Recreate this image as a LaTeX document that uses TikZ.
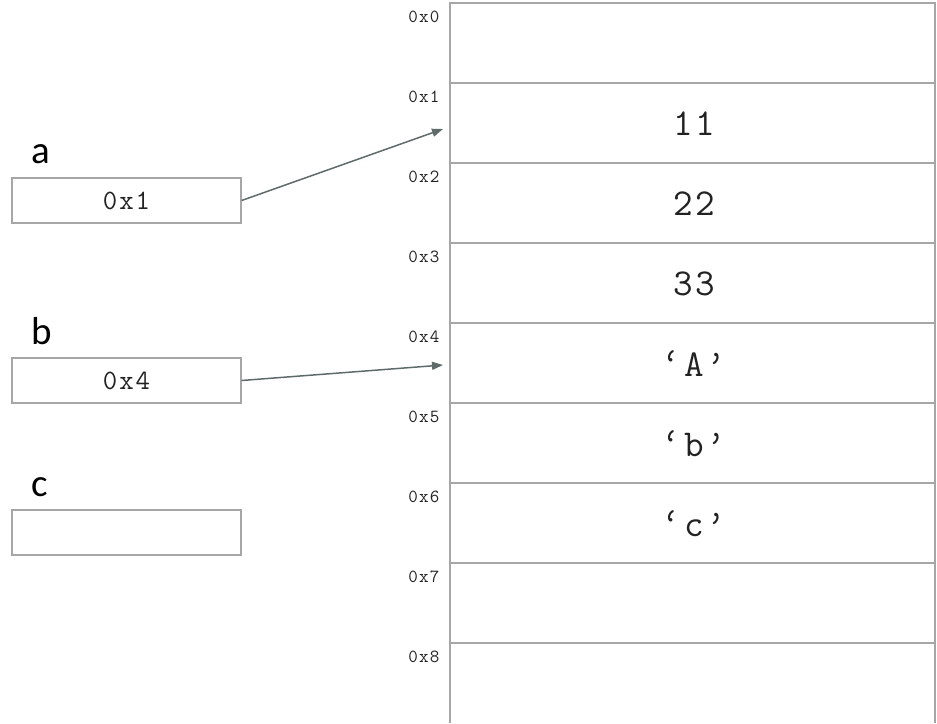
\documentclass[tikz,border=0pt]{standalone}
\usepackage{fontspec}
\setmainfont{Carlito}
\newfontfamily\codefont{Latin Modern Mono}[LetterSpace=7]
\usetikzlibrary{arrows.meta}
\definecolor{cellline}{HTML}{A6A6A6}
\definecolor{ptrline}{HTML}{5F6B6B}
\definecolor{txt}{HTML}{222222}
\begin{document}
\begin{tikzpicture}[x=1pt,y=-1pt,
  cell/.style={draw=cellline, line width=1.6pt},
  varbox/.style={draw=cellline, line width=1.3pt, minimum width=229pt, minimum height=45pt, inner sep=0pt,
    font=\fontsize{28}{30}\selectfont\codefont, text=txt},
  varname/.style={anchor=base west, font=\fontsize{39}{41}\selectfont, text=black},
  addr/.style={anchor=base east, font=\fontsize{18.5}{20}\selectfont\codefont, text=txt},
  val/.style={font=\fontsize{38}{40}\selectfont\codefont, text=txt},
  ptr/.style={draw=ptrline, line width=1.5pt, -{Triangle[length=11pt,width=8pt]}}]
\useasboundingbox (0,0) rectangle (937,723);
\fill[white] (0,0) rectangle (937,723);

% memory cells, 80pt high each; the last one runs off the bottom
\foreach \i in {0,...,7} {
  \draw[cell] (450,3+80*\i) rectangle (935,83+80*\i);
}
\draw[cell] (450,723) -- (450,643) -- (935,643) -- (935,723);

% addresses
\foreach \i in {0,...,8} {
  \node[addr] (addr\i) at (443,22+80*\i) {0x\i};
}

% stored values
\node[val] (v1) at (694,124) {11};
\node[val] (v2) at (694,204) {22};
\node[val] (v3) at (694,284) {33};
\node[val] (v4) at (694,364) {‘A’};
\node[val] (v5) at (694,444) {‘b’};
\node[val] (v6) at (694,524) {‘c’};

\coordinate (t1) at (443,129);
\coordinate (t4) at (443,365);

% variables
\node[varname] (na) at (28,163) {a};
\node[varbox] (a) at (126.5,200.5) {0x1};
\node[varname] (nb) at (28,344) {b};
\node[varbox] (b) at (126.5,380.5) {0x4};
\node[varname] (nc) at (28,496) {c};
\node[varbox] (c) at (126.5,532.5) {};

% pointers
\draw[ptr] (a.east) -- (t1);
\draw[ptr] (b.east) -- (t4);
\end{tikzpicture}
\end{document}
